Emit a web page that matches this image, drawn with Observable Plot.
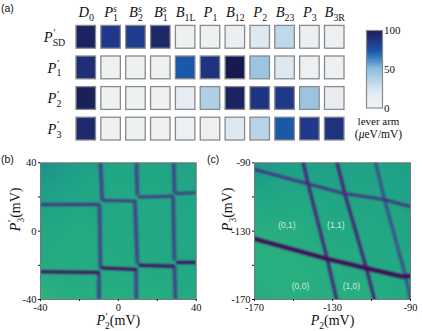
<!DOCTYPE html>
<html><head><meta charset="utf-8">
<script src="https://cdn.jsdelivr.net/npm/d3@7"></script>
<script src="https://cdn.jsdelivr.net/npm/@observablehq/plot@0.6"></script>
<style>
html,body{margin:0;padding:0;background:#fff}
#root{position:relative;width:423px;height:331px;overflow:hidden}
#root svg{position:absolute;overflow:visible;background:transparent}
.tag{position:absolute;font:10.5px "Liberation Sans",sans-serif;color:#111}
</style></head><body><div id="root">
<div class="tag" style="left:1px;top:2px">(a)</div>
<div class="tag" style="left:1px;top:153px">(b)</div>
<div class="tag" style="left:207px;top:153px">(c)</div>
</div>
<script>
// ---------- panel (a) data ----------
const gates = ["D_{0}","P^{s}_{1}","B^{s}_{2}","B^{s}_{1}","B_{1L}","P_{1}","B_{12}","P_{2}","B_{23}","P_{3}","B_{3R}"];
const virtualGates = ["P^{′}_{SD}","P^{′}_{1}","P^{′}_{2}","P^{′}_{3}"];
const leverSD = [95,85,83,93,3,3,8,20,32,8,7];
const lever1  = [90,3,3,3,72,87,100,45,20,6,5];
const lever2  = [97,3,3,3,15,38,95,87,85,45,13];
const lever3  = [92,3,3,3,7,6,20,35,72,85,87];
const colorStops = [0,14,25,38,50,62,72,85,92,100];
const colorRange = ["#f0f2f2","#e8edf2","#d3e3ef","#aecfe6","#8dbcdd","#3f86c6","#1a58a8","#20388a","#1e2a6c","#171a4e"];
const barTicks = [0,50,100];

// ---------- panel (b) data: [P2', P3'] ----------
const bTicks = [-40,-20,0,20,40];
const bShown = [-40,0,40];
const bBack = [[-40,40,.50],[-20,40,.56],[0,40,.59],[20,40,.59],[40,40,.58],
               [-40,20,.57],[-20,20,.59],[0,20,.60],[20,20,.60],[40,20,.59],
               [-40,0,.60],[-20,0,.61],[0,0,.60],[20,0,.60],[40,0,.60],
               [-40,-20,.61],[-20,-20,.61],[0,-20,.61],[20,-20,.60],[40,-20,.60],
               [-40,-40,.65],[-20,-40,.62],[0,-40,.62],[20,-40,.62],[40,-40,.61]];
const bV1a = [[-9.2,40],[-8.3,18]], bV1b = [[-9.7,15.4],[-9.2,-22]], bV1c = [[-10,-25],[-9.9,-40]];
const bV2a = [[9.3,40],[9.8,20.9]], bV2b = [[8.5,18],[9.8,-19]], bV2c = [[9.1,-23],[9.3,-40]];
const bV3a = [[28.5,40],[28.8,22.2]], bV3b = [[28.2,19.9],[28.8,-17]], bV3c = [[28.8,-20],[29.3,-40]];
const bH1a = [[-40,15.6],[-9.5,15.6]], bH1b = [[-8.3,18],[8.8,17.6]], bH1c = [[10.2,19.9],[28.5,20.5]], bH1d = [[29.2,22],[40,22.6]];
const bH2a = [[-40,-23.8],[-9.5,-24.2]], bH2b = [[-8.7,-21.5],[9.6,-22.4]], bH2c = [[10.3,-19.9],[28.8,-20.5]], bH2d = [[29.7,-18.3],[40,-18.3]];

// ---------- panel (c) data: [P2, P3] ----------
const cXTicks = [-170,-150,-130,-110,-90];
const cXShown = [-170,-130,-90];
const cYTicks = [-170,-150,-130,-110,-90];
const cYShown = [-170,-130,-90];
const cBack = [[-170,-90,.52],[-150,-90,.56],[-130,-90,.57],[-110,-90,.58],[-90,-90,.56],
               [-170,-110,.59],[-150,-110,.60],[-130,-110,.59],[-110,-110,.59],[-90,-110,.58],
               [-170,-130,.63],[-150,-130,.62],[-130,-130,.60],[-110,-130,.60],[-90,-130,.59],
               [-170,-150,.63],[-150,-150,.63],[-130,-150,.62],[-110,-150,.61],[-90,-150,.60],
               [-170,-170,.62],[-150,-170,.63],[-130,-170,.62],[-110,-170,.62],[-90,-170,.60]];
const cL1 = [[-145,-90],[-142.5,-102.3],[-132.7,-146.2],[-127.9,-170]];
const cL2 = [[-127.6,-90],[-123.7,-108.1],[-112.6,-151.7],[-108.5,-170]];
const cL3 = [[-107.9,-90],[-103.3,-111.5],[-92.6,-156],[-90,-170]];
const cH1 = [[-170,-93.9],[-142.5,-102.3],[-123.7,-108.1],[-103.3,-111.5],[-90,-115.6]];
const cH2 = [[-170,-134.5],[-132.7,-146.2],[-112.6,-151.7],[-94.3,-156.5],[-90,-156.3]];
const cStates = ["(0,1)","(1,1)","(0,0)","(1,0)"];
const cStateX = [-153.4,-128.3,-146.4,-120.3];
const cStateY = [-126.3,-126.3,-162.4,-162.4];

// ---------- helpers ----------
const serif = '"Liberation Serif",serif';
const root = document.getElementById("root");
const NS = "http://www.w3.org/2000/svg";
function mount(svg, left, top){ svg.style.left = left+"px"; svg.style.top = top+"px"; root.appendChild(svg); mathify(svg); return svg; }
function mathify(svg){
  svg.querySelectorAll("text").forEach(t=>{
    const s = t.textContent;
    if(!/[_^]|[PBDμ]/.test(s)) return;
    t.textContent = "";
    const size = parseFloat(getComputedStyle(t).fontSize) || 13;
    let off = 0, supLen = 0, prevSup = false;
    const add = (str, opts)=>{
      const el = document.createElementNS(NS,"tspan");
      el.textContent = str;
      const targ = opts.off||0;
      if(targ!==off){ el.setAttribute("dy",(targ-off).toFixed(2)); off=targ; }
      if(opts.dx) el.setAttribute("dx",opts.dx.toFixed(2));
      if(opts.italic) el.setAttribute("font-style","italic");
      if(opts.small) el.setAttribute("font-size",(size*opts.small).toFixed(1));
      t.appendChild(el);
      return el;
    };
    for(const m of s.matchAll(/([_^])\{([^}]*)\}|([^_^]+)/g)){
      if(m[1]==="^"){
        const prime = m[2]==="′";
        const el = add(m[2],{off:-size*.38,small:prime?.7:.66,italic:true});
        supLen = el.getComputedTextLength(); prevSup = true;
      } else if(m[1]==="_"){
        add(m[2],{off:size*.26,small:.68,dx:prevSup?-supLen:0}); prevSup=false;
      } else {
        for(const p of m[3].match(/[PBDμ]|[^PBDμ]+/g)){
          add(p,{off:0,italic:/^[PBDμ]/.test(p)});
        }
        prevSup=false;
      }
    }
  });
}
const fmt = shown => d => shown.includes(d) ? String(d) : "";
const rowsOf = (id,v,w,pts)=>pts.map(([x,y])=>({id,v,w,x,y}));
const leverColor = {type:"linear",domain:colorStops,range:colorRange,interpolate:"rgb"};

// ---------- panel (a) ----------
const leverRows = [leverSD,lever1,lever2,lever3];
const cells = virtualGates.flatMap((r,i)=>gates.map((g,j)=>({row:r,gate:g,value:leverRows[i][j]})));
mount(Plot.plot({
  width:340,height:146,margin:0,
  style:{fontFamily:serif,background:"transparent"},
  x:{type:"band",domain:gates,range:[76,344],paddingInner:.215,paddingOuter:0,round:false,axis:null},
  y:{type:"band",domain:virtualGates,range:[25.4,140],paddingInner:.255,paddingOuter:0,round:false,axis:null},
  color:leverColor,
  marks:[
    Plot.cell(cells,{x:"gate",y:"row",fill:"value",stroke:"#8a8a8a",strokeWidth:1.3}),
    Plot.text(gates,{x:d=>d,frameAnchor:"top",dy:12,fontSize:14.5,fill:"#111",lineAnchor:"middle"}),
    Plot.text(virtualGates,{y:d=>d,frameAnchor:"left",dx:54,textAnchor:"middle",fontSize:14.5,fill:"#111"})
  ]
}),0,0);

// colour bar
const levels = d3.range(0,100,1);
mount(Plot.plot({
  width:83,height:146,marginLeft:26,marginRight:41,marginTop:30,marginBottom:38.5,
  style:{fontFamily:serif,background:"transparent"},
  x:{domain:[0,1],axis:null},
  y:{domain:[0,100],axis:null},
  color:leverColor,
  marks:[
    Plot.rect(levels,{x1:0,x2:1,y1:d=>d,y2:d=>d+1,fill:d=>d,shapeRendering:"crispEdges"}),
    Plot.frame({stroke:"#8a8a8a",strokeWidth:1.2}),
    Plot.text(barTicks,{y:d=>d,frameAnchor:"right",dx:1.5,textAnchor:"start",text:d=>String(d),fontSize:11,fill:"#111"}),
    Plot.text(["lever arm"],{frameAnchor:"bottom",dx:4,dy:13.5,fontSize:11,fill:"#111",lineAnchor:"middle"}),
    Plot.text(["(μeV/mV)"],{frameAnchor:"bottom",dx:4,dy:26,fontSize:11.5,fill:"#111",lineAnchor:"middle"})
  ]
}),340,0);

// ---------- panel (b) ----------
const bV = [bV1a,bV1b,bV1c,bV2a,bV2b,bV2c,bV3a,bV3b,bV3c].flatMap((p,i)=>rowsOf("v"+i,.21,3.8,p));
const bH1 = [bH1a,bH1b,bH1c,bH1d].flatMap((p,i)=>rowsOf("h"+i,.15,2.8,p));
const bH2 = [bH2a,bH2b,bH2c,bH2d].flatMap((p,i)=>rowsOf("l"+i,.02,3,p));
mount(Plot.plot({
  width:211,height:181,marginLeft:40,marginRight:15.3,marginTop:12.3,marginBottom:32,
  style:{fontFamily:serif,background:"transparent"},
  x:{domain:[-40,40]},y:{domain:[-40,40]},
  color:{type:"linear",scheme:"viridis",domain:[0,1]},
  marks:[
    Plot.raster(bBack,{x:d=>d[0],y:d=>d[1],fill:d=>d[2],interpolate:"barycentric",pixelSize:1}),
    Plot.line([...bV,...bH1,...bH2],{x:"x",y:"y",z:"id",stroke:"v",strokeWidth:"w",strokeLinecap:"butt",clip:"frame",imageFilter:"blur(0.8px)"}),
    Plot.frame({stroke:"#777",strokeWidth:1}),
    Plot.axisX({ticks:bTicks,tickFormat:fmt(bShown),tickSize:2,tickPadding:2,fontSize:10.5,label:null,color:"#111"}),
    Plot.axisY({ticks:bTicks,tickFormat:fmt(bShown),tickSize:2,tickPadding:2,fontSize:10.5,label:null,color:"#111"}),
    Plot.text(["P^{′}_{2}(mV)"],{frameAnchor:"bottom",dy:21,fontSize:14,fill:"#111",lineAnchor:"middle"}),
    Plot.text(["P^{′}_{3}(mV)"],{frameAnchor:"left",dx:-25,rotate:-90,fontSize:14,fill:"#111"})
  ]
}),0,150);

// ---------- panel (c) ----------
const cLines = [
  ...rowsOf("l1",.1,3.2,cL1),...rowsOf("l2",.1,3.2,cL2),...rowsOf("l3",.24,3.2,cL3),
  ...rowsOf("h1",.14,2.8,cH1),...rowsOf("h2",.01,4,cH2)
];
mount(Plot.plot({
  width:212,height:181,marginLeft:43,marginRight:13,marginTop:12.3,marginBottom:32,
  style:{fontFamily:serif,background:"transparent"},
  x:{domain:[-170,-90]},y:{domain:[-170,-90]},
  color:{type:"linear",scheme:"viridis",domain:[0,1]},
  marks:[
    Plot.raster(cBack,{x:d=>d[0],y:d=>d[1],fill:d=>d[2],interpolate:"barycentric",pixelSize:1}),
    Plot.line(cLines,{x:"x",y:"y",z:"id",stroke:"v",strokeWidth:"w",strokeLinejoin:"round",clip:"frame",imageFilter:"blur(0.8px)"}),
    Plot.text(cStates,{x:(d,i)=>cStateX[i],y:(d,i)=>cStateY[i],fill:"#d3ecd6",fontSize:8.5,fontFamily:'"Liberation Sans",sans-serif'}),
    Plot.frame({stroke:"#777",strokeWidth:1}),
    Plot.axisX({ticks:cXTicks,tickFormat:fmt(cXShown),tickSize:2,tickPadding:2,fontSize:10.5,label:null,color:"#111"}),
    Plot.axisY({ticks:cYTicks,tickFormat:fmt(cYShown),tickSize:2,tickPadding:2,fontSize:10.5,label:null,color:"#111"}),
    Plot.text(["P_{2}(mV)"],{frameAnchor:"bottom",dy:21,fontSize:14,fill:"#111",lineAnchor:"middle"}),
    Plot.text(["P_{3}(mV)"],{frameAnchor:"left",dx:-27,rotate:-90,fontSize:14,fill:"#111"})
  ]
}),211,150);
</script></body></html>
